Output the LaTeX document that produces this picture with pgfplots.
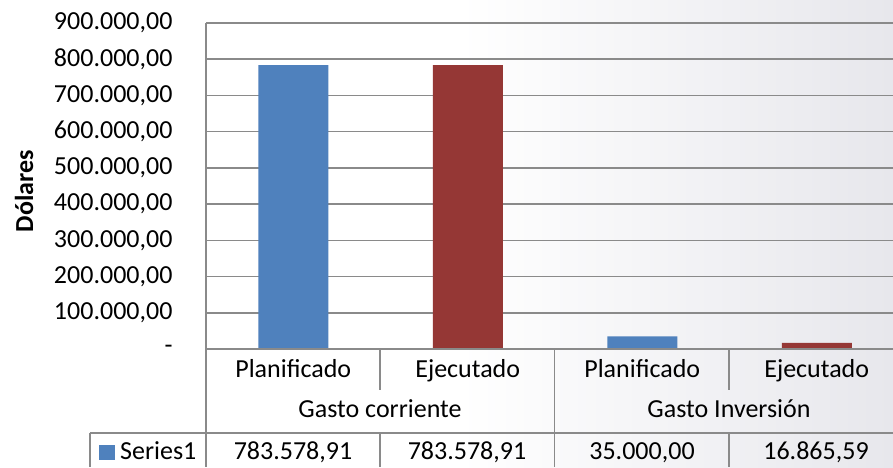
\documentclass[border=0pt]{standalone}
\usepackage{fontspec}
\setmainfont{Carlito}
\usepackage{pgfplots}
\pgfplotsset{compat=1.18}
\definecolor{barblue}{HTML}{4F81BD}
\definecolor{barred}{HTML}{953735}
\definecolor{gridgray}{HTML}{8A8A8A}
\definecolor{bgright}{HTML}{E7E7EC}
\begin{document}
\begin{tikzpicture}[x=1pt,y=1pt,font=\fontsize{26}{30}\selectfont]
\begin{axis}[
  set layers,
  scale only axis, width=687pt, height=326pt,
  xmin=-0.5, xmax=3.437, ymin=0, ymax=900000,
  ybar, bar width=70pt,
  axis line style={draw=none},
  ymajorgrids, grid style={gridgray, line width=1.5pt},
  major tick length=0pt,
  scaled y ticks=false,
  ytick={0,100000,200000,300000,400000,500000,600000,700000,800000,900000},
  yticklabels={{-\hspace{14pt}},{100.000,00},{200.000,00},{300.000,00},{400.000,00},{500.000,00},{600.000,00},{700.000,00},{800.000,00},{900.000,00}},
  yticklabel style={xshift=-30pt},
  xtick={0,1,2,3},
  xticklabels={Planificado,Ejecutado,Planificado,Ejecutado},
  xticklabel style={yshift=-7pt},
  /pgf/number format/assume math mode=true,
  clip=false,
]
\coordinate (O) at (rel axis cs:0,0);
\begin{pgfonlayer}{axis background}
\fill[white] ([xshift=-206pt,yshift=-118pt]O) rectangle ([xshift=254pt,yshift=349pt]O);
\shade[left color=white,right color=bgright] ([xshift=254pt,yshift=-118pt]O) rectangle ([xshift=687pt,yshift=349pt]O);
\end{pgfonlayer}
\addplot[fill=barblue, draw=none, bar shift=0pt] coordinates {(0,783578.91) (2,35000.00)};
\addplot[fill=barred, draw=none, bar shift=0pt] coordinates {(1,783578.91) (3,16865.59)};
\end{axis}
\begin{scope}[shift={(O)}, xshift=-206pt, yshift=-118pt]
% axis lines and data table grid
\begin{scope}[draw=gridgray, line width=1.5pt]
\draw (206,444) -- (206,0);
\draw (206,118) -- (893,118);
\draw (90,34) -- (893,34);
\draw (90,34) -- (90,0);
\draw (380,118) -- (380,77);
\draw (380,34) -- (380,0);
\draw (554.5,118) -- (554.5,0);
\draw (729,118) -- (729,77);
\draw (729,34) -- (729,0);
\end{scope}
% Y label
\node[rotate=90, font=\fontsize{26}{30}\selectfont\bfseries] at (24,276) {Dólares};
% group labels
\node[anchor=base] at (380,50) {Gasto corriente};
\node[anchor=base] at (729,50) {Gasto Inversión};
% data row
\fill[barblue] (99,7) rectangle (115,22);
\node[anchor=base west, inner sep=0pt] at (120,8) {Series1};
\node[anchor=base] at (293,8) {783.578,91};
\node[anchor=base] at (467,8) {783.578,91};
\node[anchor=base] at (642,8) {35.000,00};
\node[anchor=base] at (816,8) {16.865,59};
\end{scope}
\pgfresetboundingbox
\path ([xshift=-206pt,yshift=-118pt]O) rectangle ([xshift=687pt,yshift=349pt]O);
\end{tikzpicture}
\end{document}
